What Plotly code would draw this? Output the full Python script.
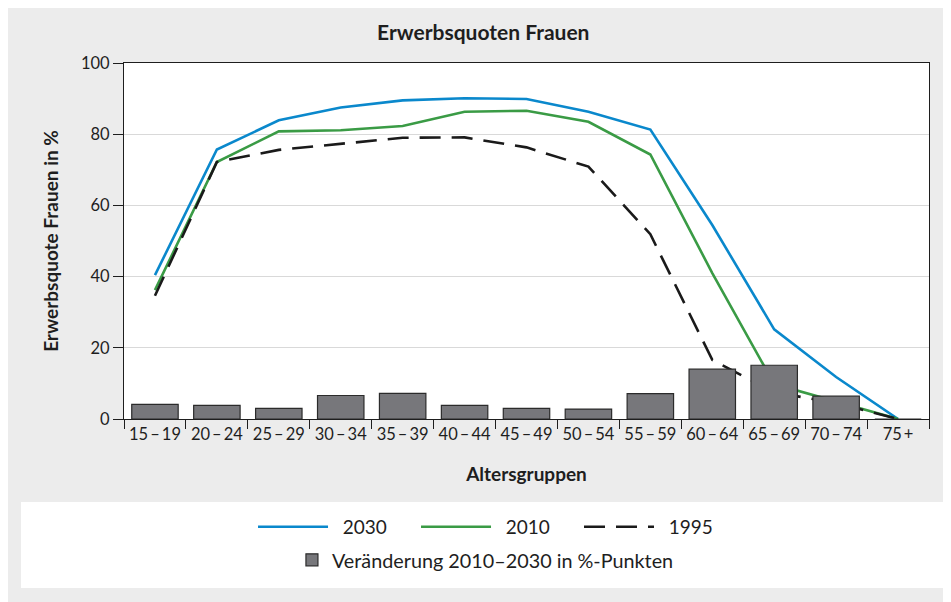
import plotly.graph_objects as go

age_groups = ["15–19", "20–24", "25–29", "30–34", "35–39", "40–44", "45–49",
              "50–54", "55–59", "60–64", "65–69", "70–74", "75+"]
tick_labels = ["15\u2009–\u200919", "20\u2009–\u200924", "25\u2009–\u200929", "30\u2009–\u200934",
               "35\u2009–\u200939", "40\u2009–\u200944", "45\u2009–\u200949", "50\u2009–\u200954",
               "55\u2009–\u200959", "60\u2009–\u200964", "65\u2009–\u200969", "70\u2009–\u200974",
               "75\u2009+"]
quote_2030 = [40.4, 75.7, 83.9, 87.5, 89.5, 90.1, 89.9, 86.3, 81.3, 54.5, 25.2, 11.8, 0]
quote_2010 = [36.2, 72.2, 80.8, 81.1, 82.3, 86.3, 86.6, 83.5, 74.3, 41.0, 9.8, 5.0, 0]
quote_1995 = [34.6, 72.2, 75.6, 77.4, 79.0, 79.1, 76.3, 70.9, 51.9, 16.6, 7.5, 4.5, 0]
change_2010_2030 = [4.1, 3.8, 3.0, 6.6, 7.2, 3.8, 3.0, 2.8, 7.1, 14.0, 15.1, 6.4, 0]

FONT = "Lato"
TXT = "#1e1e1e"
PAD = "\u00a0\u00a0"  # gap between legend line sample and label

fig = go.Figure()

fig.add_trace(go.Scatter(x=age_groups, y=quote_2030, name=PAD + "2030", mode="lines",
                         line=dict(color="#0a88cc", width=2.6), legend="legend"))
fig.add_trace(go.Scatter(x=age_groups, y=quote_2010, name=PAD + "2010", mode="lines",
                         line=dict(color="#3a9b45", width=2.6), legend="legend"))
fig.add_trace(go.Scatter(x=age_groups, y=quote_1995, name=PAD + "1995", mode="lines",
                         line=dict(color="#1a1a1a", width=2.6, dash="21px,11px"),
                         legend="legend"))
# bars on an overlaying axis pair so they are drawn above the lines
fig.add_trace(go.Bar(x=age_groups, y=change_2010_2030,
                     name="Veränderung 2010–2030 in %-Punkten",
                     marker=dict(color="#77777b", line=dict(color="#2b2b2b", width=1.2)),
                     width=0.75, xaxis="x2", yaxis="y2", legend="legend2"))

fig.update_layout(
    width=943, height=594,
    margin=dict(l=116, r=22, t=55, b=183),
    paper_bgcolor="#ececec",
    plot_bgcolor="white",
    font=dict(family=FONT, size=16, color=TXT),
    showlegend=True,
    title=dict(text="<b>Erwerbsquoten Frauen</b>", x=0.504, xanchor="center",
               y=0.958, yanchor="middle", font=dict(size=21, color=TXT)),
    xaxis=dict(
        type="category", categoryorder="array", categoryarray=age_groups,
        tickvals=age_groups, ticktext=tick_labels,
        tickson="boundaries", ticks="outside", ticklen=9, tickcolor="#1e1e1e",
        showline=True, linecolor="#1e1e1e", linewidth=1.2, mirror=True,
        showgrid=False, range=[-0.5, 12.5],
        title=dict(text="<b>Altersgruppen</b>", standoff=24, font=dict(size=19)),
        tickfont=dict(size=16.5),
    ),
    yaxis=dict(
        range=[0, 100], dtick=20, ticks="outside", ticklen=10, tickcolor="#1e1e1e",
        showline=True, linecolor="#1e1e1e", linewidth=1.2, mirror=True,
        gridcolor="#d9d9d9", gridwidth=1.2, zeroline=False,
        title=dict(text="<b>Erwerbsquote Frauen in %</b>", standoff=17, font=dict(size=19)),
        tickfont=dict(size=16.5),
    ),
    xaxis2=dict(type="category", categoryorder="array", categoryarray=age_groups,
                overlaying="x", range=[-0.5, 12.5], visible=False),
    yaxis2=dict(overlaying="y", range=[0, 100], visible=False),
    legend=dict(orientation="h", x=0.464, xanchor="center", y=-0.303, yanchor="middle",
                bgcolor="rgba(0,0,0,0)", font=dict(size=19), itemwidth=70,
                entrywidthmode="pixels", entrywidth=78),
    legend2=dict(orientation="h", x=0.449, xanchor="center", y=-0.396, yanchor="middle",
                 bgcolor="rgba(0,0,0,0)", font=dict(size=19.8)),
    shapes=[
        dict(type="rect", xref="paper", yref="paper", x0=-0.128, x1=1.0186,
             y0=-0.475, y1=-0.233, fillcolor="white", line=dict(width=0), layer="below"),
    ],
)

fig.write_html("out.html")
